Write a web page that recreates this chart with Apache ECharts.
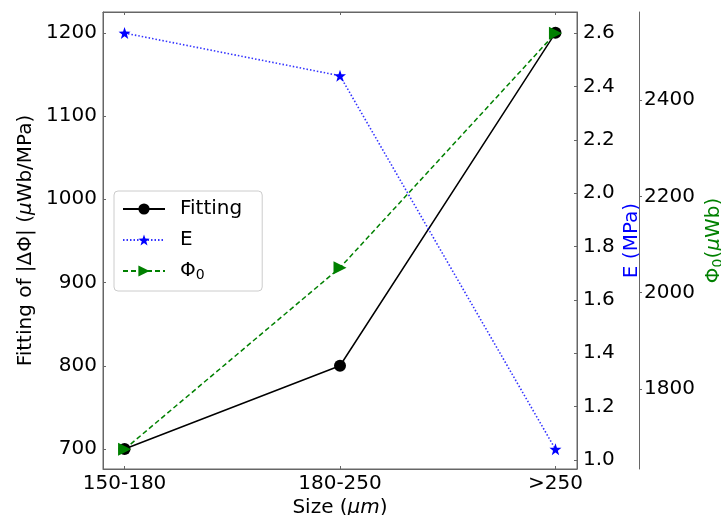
<!DOCTYPE html>
<html>
<head>
<meta charset="utf-8">
<script src="https://cdn.jsdelivr.net/npm/echarts@6/dist/echarts.min.js"></script>
<style>
  html, body { margin: 0; padding: 0; background: #fff; }
  #panel { width: 721px; height: 515px; }
</style>
</head>
<body>
<div id="panel"></div>
<script>
const sizes = ['150-180', '180-250', '>250'];
const fitting = [700, 800, 1200];
const modulusE = [2.6, 2.44, 1.04];
const phi0 = [1675, 2052, 2539];

const fitTicks = [700, 800, 900, 1000, 1100, 1200];
const eTicks = [1.0, 1.2, 1.4, 1.6, 1.8, 2.0, 2.2, 2.4, 2.6];
const phiTicks = [1800, 2000, 2200, 2400];

const FONT = 'DejaVu Sans';
const STAR = 'path://M0,-10 L2.35,-3.24 9.51,-3.09 3.8,1.24 5.88,8.09 0,4 -5.88,8.09 -3.8,1.24 -9.51,-3.09 -2.35,-3.24Z';
const FRAME = '#666';

const toPts = (arr) => arr.map((v, i) => [i, v]);

const myChart = echarts.init(document.getElementById('panel'));

// 共用的轴样式
const axisBase = {
  type: 'value',
  nameMoveOverlap: false,
  axisLine: { show: true, onZero: false, lineStyle: { color: FRAME, width: 1 } },
  splitLine: { show: false },
  axisLabel: { color: '#000', fontFamily: FONT, fontSize: 20, formatter: (v) => String(v) },
  nameTextStyle: { fontFamily: FONT, fontSize: 20 },
};

const option = {
  backgroundColor: '#fff',
  animation: false,
  grid: {
    left: 103, right: 144, top: 12, bottom: 46,
    outerBoundsMode: 'none', containLabel: false,
    show: true, borderColor: FRAME, borderWidth: 1,
  },
  legend: {
    orient: 'vertical',
    left: 114,
    top: 191,
    itemWidth: 42,
    itemHeight: 14,
    itemGap: 11,
    padding: [8, 20, 9, 8],
    borderColor: '#ccc',
    borderWidth: 1,
    borderRadius: 4,
    backgroundColor: '#fff',
    data: ['Fitting', 'E', 'Phi'],
    formatter: (name) => (name === 'Phi' ? '{a|Φ}{s|0}' : name),
    textStyle: {
      fontFamily: FONT,
      fontSize: 20,
      color: '#000',
      padding: [0, 0, 0, 10],
      rich: {
        a: { fontFamily: FONT, fontSize: 20 },
        s: { fontFamily: FONT, fontSize: 14, verticalAlign: 'bottom', padding: [8, 0, 0, 0] },
      },
    },
  },
  xAxis: [
    {
      type: 'value',
      min: -0.1,
      max: 2.1,
      nameMoveOverlap: false,
      name: '{a|Size (}{i|μm}{a|)}',
      nameLocation: 'middle',
      nameGap: 29,
      nameTextStyle: {
        rich: {
          a: { fontFamily: FONT, fontSize: 20, color: '#000' },
          i: { fontFamily: FONT, fontSize: 20, fontStyle: 'italic', color: '#000' },
        },
      },
      axisLine: { show: true, onZero: false, lineStyle: { color: FRAME } },
      axisTick: { show: true, inside: true, length: 3, lineStyle: { color: FRAME }, customValues: [0, 1, 2] },
      axisLabel: {
        color: '#000', fontFamily: FONT, fontSize: 20, margin: 5,
        customValues: [0, 1, 2],
        formatter: (v) => sizes[Math.round(v)],
      },
      splitLine: { show: false },
    },
    {
      type: 'value',
      position: 'top',
      min: -0.1,
      max: 2.1,
      axisLine: { show: true, onZero: false, lineStyle: { color: FRAME } },
      axisTick: { show: true, inside: true, length: 3, lineStyle: { color: FRAME }, customValues: [0, 1, 2] },
      axisLabel: { show: false },
      splitLine: { show: false },
    },
  ],
  yAxis: [
    {
      ...axisBase,
      position: 'left',
      min: 676,
      max: 1225,
      name: '{a|Fitting of |ΔΦ| (}{i|μ}{a|Wb/MPa)}',
      nameLocation: 'middle',
      nameGap: 67,
      nameTextStyle: {
        rich: {
          a: { fontFamily: FONT, fontSize: 20, color: '#000' },
          i: { fontFamily: FONT, fontSize: 20, fontStyle: 'italic', color: '#000' },
        },
      },
      axisTick: { show: true, inside: true, length: 3, lineStyle: { color: FRAME }, customValues: fitTicks },
      axisLabel: { ...axisBase.axisLabel, margin: 6, customValues: fitTicks },
    },
    {
      ...axisBase,
      position: 'right',
      min: 0.966,
      max: 2.679,
      name: 'E (MPa)',
      nameLocation: 'middle',
      nameGap: 45,
      nameTextStyle: { fontFamily: FONT, fontSize: 20, color: '#0000ff' },
      axisTick: { show: true, inside: true, length: 3, lineStyle: { color: FRAME }, customValues: eTicks },
      axisLabel: { ...axisBase.axisLabel, margin: 6, customValues: eTicks, formatter: (v) => v.toFixed(1) },
    },
    {
      ...axisBase,
      position: 'right',
      offset: 62,
      min: 1634,
      max: 2583,
      name: '{a|Φ}{s|0}{a|(}{i|μ}{a|Wb)}',
      nameLocation: 'middle',
      nameGap: 64,
      nameTextStyle: {
        rich: {
          a: { fontFamily: FONT, fontSize: 20, color: '#008000' },
          i: { fontFamily: FONT, fontSize: 20, fontStyle: 'italic', color: '#008000' },
          s: { fontFamily: FONT, fontSize: 14, color: '#008000', verticalAlign: 'bottom', padding: [8, 0, 0, 0] },
        },
      },
      axisTick: { show: true, length: 3, lineStyle: { color: FRAME }, customValues: phiTicks },
      axisLabel: { ...axisBase.axisLabel, margin: 5, customValues: phiTicks },
    },
  ],
  series: [
    {
      name: 'Fitting',
      type: 'line',
      yAxisIndex: 0,
      data: toPts(fitting),
      symbol: 'circle',
      symbolSize: 12,
      itemStyle: { color: '#000' },
      lineStyle: { color: '#000', width: 1.5 },
    },
    {
      name: 'E',
      type: 'line',
      yAxisIndex: 1,
      data: toPts(modulusE),
      symbol: STAR,
      symbolSize: 12,
      itemStyle: { color: '#0000ff' },
      lineStyle: { color: 'rgba(0,0,255,0.8)', width: 1.6, type: [1.5, 2] },
    },
    {
      name: 'Phi',
      type: 'line',
      yAxisIndex: 2,
      data: toPts(phi0),
      symbol: 'triangle',
      symbolRotate: -90,
      symbolSize: 13,
      itemStyle: { color: '#008000' },
      lineStyle: { color: '#008000', width: 1.5, type: [5, 3] },
    },
  ],
};

myChart.setOption(option);
</script>
</body>
</html>
